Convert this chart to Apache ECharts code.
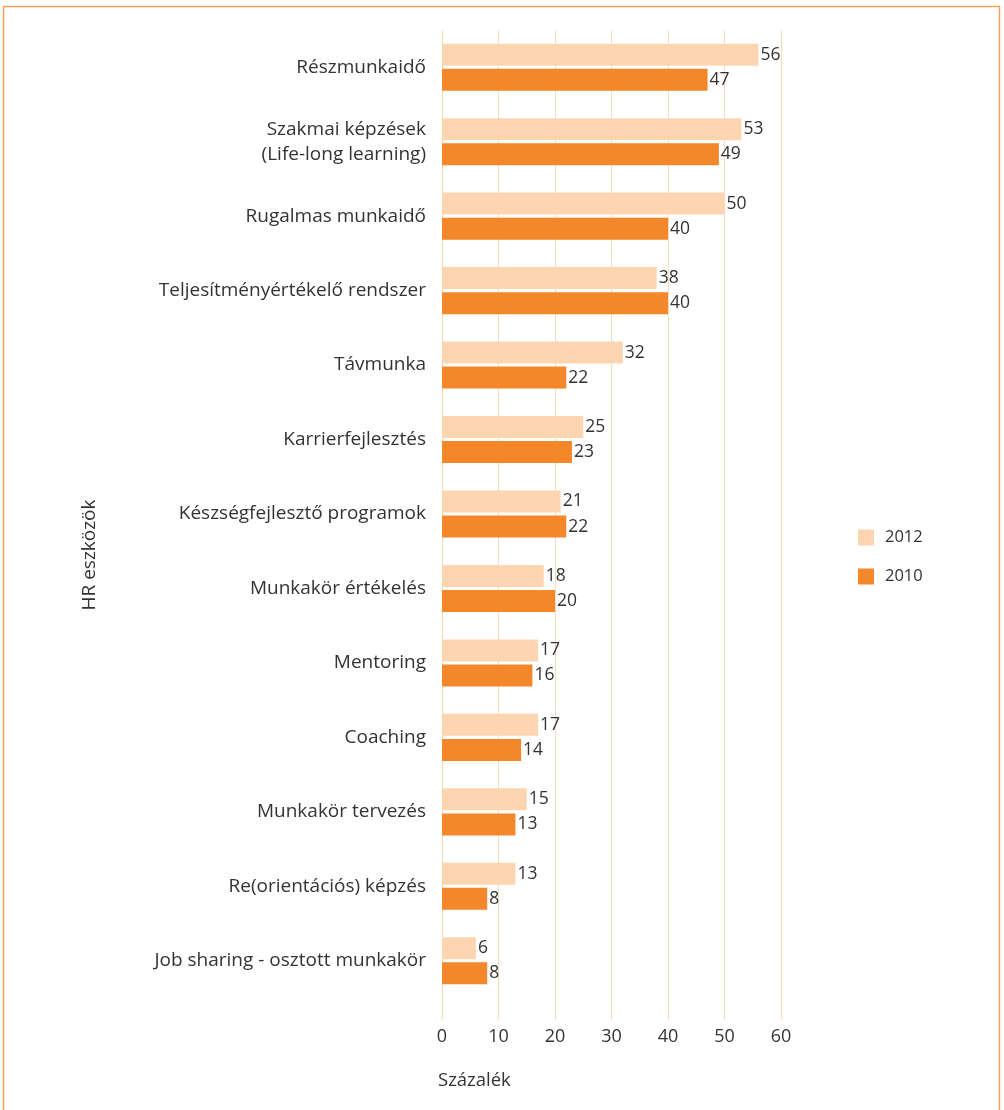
<!DOCTYPE html>
<html>
<head>
<meta charset="utf-8">
<script src="https://cdn.jsdelivr.net/npm/echarts@6/dist/echarts.min.js"></script>
<style>
  html, body { margin: 0; padding: 0; background: #fff; }
  #main { width: 1004px; height: 1110px; }
</style>
</head>
<body>
<div id="main"></div>
<script>
var categories = ['Részmunkaidő', 'Szakmai képzések\n(Life-long learning)', 'Rugalmas munkaidő',
  'Teljesítményértékelő rendszer', 'Távmunka', 'Karrierfejlesztés', 'Készségfejlesztő programok',
  'Munkakör értékelés', 'Mentoring', 'Coaching', 'Munkakör tervezés', 'Re(orientációs) képzés',
  'Job sharing - osztott munkakör'];
var values2012 = [56, 53, 50, 38, 32, 25, 21, 18, 17, 17, 15, 13, 6];
var values2010 = [47, 49, 40, 40, 22, 23, 22, 20, 16, 14, 13, 8, 8];
var xTicks = [0, 10, 20, 30, 40, 50, 60];

var light = '#fdd6b1';
var orange = '#f48729';
var font = 'Open Sans';

var myChart = echarts.init(document.getElementById('main'));
option = {
    animation: false,
    textStyle: { fontFamily: font },
    graphic: [
      {
        type: 'rect',
        shape: { x: 3.5, y: 6.5, width: 996, height: 1120 },
        style: { fill: 'none', stroke: '#f5a05c', lineWidth: 1.5 }
      },
      {
        type: 'text',
        left: 438, top: 1071,
        style: { text: 'Százalék', fontSize: 18.5, fill: '#333', fontFamily: font }
      },
      {
        type: 'text',
        x: 90, y: 555, rotation: Math.PI / 2,
        style: { text: 'HR eszközök', fontSize: 19, fill: '#333', fontFamily: font,
                 align: 'center', verticalAlign: 'middle' }
      }
    ],
    legend: {
      orient: 'vertical',
      left: 853,
      top: 524,
      itemWidth: 16,
      itemHeight: 16,
      itemGap: 22,
      icon: 'rect',
      data: ['2012', '2010'],
      textStyle: { fontSize: 16.5, color: '#333', fontFamily: font, padding: [0, 0, 0, 6] }
    },
    grid: [
      { left: 442, right: 223, top: 30, height: 968 },
      { left: 442, right: 223, top: 998, height: 22 }
    ],
    xAxis: [
      {
        type: 'value', gridIndex: 0, min: 0, max: 60, interval: 10,
        axisLine: { show: false }, axisTick: { show: false }, axisLabel: { show: false },
        splitLine: { lineStyle: { color: '#fdd9bb', width: 1 } }
      },
      {
        type: 'value', gridIndex: 1, min: 0, max: 60, interval: 10,
        axisLine: { show: false }, axisTick: { show: false },
        axisLabel: {
          fontSize: 18, color: '#333', margin: 8, fontFamily: font,
          formatter: function (v) { return xTicks.indexOf(v) >= 0 ? String(v) : ''; }
        },
        splitLine: { lineStyle: { color: '#fdd9bb', width: 1 } }
      }
    ],
    yAxis: [
      {
        type: 'category', gridIndex: 0, data: categories, inverse: true,
        axisLine: { show: false }, axisTick: { show: false },
        axisLabel: { fontSize: 19, color: '#333', margin: 16, lineHeight: 25, fontFamily: font }
      },
      {
        type: 'category', gridIndex: 1, data: [''], show: false
      }
    ],
    series: [
      {
        name: '2012', type: 'bar', xAxisIndex: 0, yAxisIndex: 0,
        data: values2012, barWidth: 22, barGap: '14%',
        itemStyle: { color: light },
        label: { show: true, position: 'right', distance: 2, fontSize: 17.5, color: '#333', fontFamily: font }
      },
      {
        name: '2010', type: 'bar', xAxisIndex: 0, yAxisIndex: 0,
        data: values2010, barWidth: 22, barGap: '14%',
        itemStyle: { color: orange },
        label: { show: true, position: 'right', distance: 2, fontSize: 17.5, color: '#333', fontFamily: font }
      }
    ]
};
myChart.setOption(option);
</script>
</body>
</html>
